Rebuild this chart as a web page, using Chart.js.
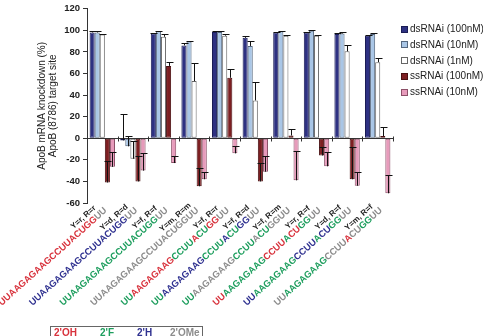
<!DOCTYPE html>
<html>
<head>
<meta charset="utf-8">
<script src="https://cdn.jsdelivr.net/npm/chart.js@4.4.1/dist/chart.umd.min.js"></script>
<style>
  html, body { margin: 0; padding: 0; background: #fff; }
  #wrap { position: relative; width: 483px; height: 336px; overflow: hidden; }
  #legend { position: absolute; left: 401px; top: 21px; font: 10px 'Liberation Sans', Arial, sans-serif; color: #222; }
  #legend .row { height: 15.75px; line-height: 15.75px; white-space: nowrap; }
  #legend .box { display: inline-block; width: 5px; height: 5px; border: 1px solid #555; margin-right: 2px; vertical-align: -0.5px; }
  #key { position: absolute; left: 50px; top: 326px; width: 153px; height: 14px; border: 1px solid #666;
         font: bold 10px 'Liberation Sans', Arial, sans-serif; box-sizing: border-box; }
  #key span { position: absolute; top: 0px; }
</style>
</head>
<body>
<div id="wrap">
  <canvas id="grafico" width="483" height="336"></canvas>
  <div id="legend"></div>
  <div id="key">
    <span style="left:3px;color:#d8323c">2'OH</span>
    <span style="left:49px;color:#1e9e5e">2'F</span>
    <span style="left:86px;color:#2f3190">2'H</span>
    <span style="left:119px;color:#8c8c8c">2'OMe</span>
  </div>
</div>
<script>
// secuencia y modificaciones por categoria
const sequence = 'UUAAGAGAAGCCUUACUGGUU';
const yMods = ['r', 'd', 'f', 'm', 'f', 'f', 'f', 'r', 'd', 'm'];
const rMods = ['r', 'd', 'f', 'm', 'r', 'd', 'm', 'f', 'f', 'f'];
const categories = yMods.map((y, i) => `Y=${y}, R=${rMods[i]}`);

const seriesNames = ['dsRNAi (100nM)', 'dsRNAi (10nM)', 'dsRNAi (1nM)', 'ssRNAi (100nM)', 'ssRNAi (10nM)'];

const ds100 = [98, -2, 97, 86, 98.5, 93, 98, 98, 96.5, 95];
const ds10 = [98, -7.5, 99, 89.5, 98.5, 85.5, 99, 99.5, 97, 96.5];
const ds1 = [96, -19, 94, 53, 95, 35, 95, 95, 80.5, 70.5];
const ss100 = [-41, -40, 67, -44.5, 56, -40, 2.5, -16, -38, 2];
const ss10 = [-26.5, -30, -23, -38, -14, -31, -39, -26, -44, -51];

const ds100Err = [1, 24, 0.5, 2, 0.5, 1.5, 0.5, 0.5, 1, 1];
const ds10Err = [1, 10, 0.5, 1, 0.5, 5, 0.5, 1, 1, 1];
const ds1Err = [0.5, 16, 3, 17, 2, 17, 1, 0.5, 6, 4];
const ss100Err = [20, 24, 4, 17, 8, 17, 6, 8, 30, 8];
const ss10Err = [14, 16, 7, 7, 7, 15, 27, 13, 13, 17];

const yTicks = { min: -60, max: 120, step: 20 };

const colores = ['#2e3182', '#a9c6e6', '#ffffff', '#7d1f22', '#e79bbb'];
const bordes = ['#1a1c55', '#55677e', '#666666', '#4a1012', '#8c5068'];
const modColor = { r: '#d8323c', f: '#1e9e5e', d: '#2f3190', m: '#8c8c8c' };

function charMod(cat, k) {
    if (cat === 9 && k === 14) return 'r';
    if (k >= 19) return 'm';
    const ch = sequence[k];
    return (ch === 'C' || ch === 'U') ? yMods[cat] : rMods[cat];
}

// barras de error (solo hacia arriba)
const errorBars = {
    id: 'errorBars',
    afterDatasetsDraw(chart) {
        const { ctx } = chart;
        const yScale = chart.scales.y;
        ctx.save();
        ctx.strokeStyle = '#111';
        ctx.lineWidth = 1;
        chart.data.datasets.forEach((ds, i) => {
            chart.getDatasetMeta(i).data.forEach((bar, j) => {
                const v = ds.data[j], e = ds.errors[j];
                if (!e) return;
                const x = Math.round(bar.x) + 0.5;
                const y0 = yScale.getPixelForValue(v);
                const y1 = Math.round(yScale.getPixelForValue(v + e)) + 0.5;
                ctx.beginPath();
                ctx.moveTo(x, y0);
                ctx.lineTo(x, y1);
                ctx.moveTo(x - 3, y1);
                ctx.lineTo(x + 4, y1);
                ctx.stroke();
            });
        });
        ctx.restore();
    }
};

// marcas en la linea cero
const zeroTicks = {
    id: 'zeroTicks',
    afterDraw(chart) {
        const { ctx } = chart;
        const x = chart.scales.x, y = chart.scales.y;
        const y0 = Math.round(y.getPixelForValue(0)) + 0.5;
        const w = (x.right - x.left) / categories.length;
        ctx.save();
        ctx.strokeStyle = '#333';
        ctx.lineWidth = 1;
        ctx.beginPath();
        for (let i = 1; i <= categories.length; i++) {
            const xx = Math.round(x.left + i * w) + 0.5;
            ctx.moveTo(xx, y0 - 2);
            ctx.lineTo(xx, y0 + 3);
        }
        ctx.stroke();
        ctx.restore();
    }
};

// etiquetas de secuencia giradas
const seqLabels = {
    id: 'seqLabels',
    afterDraw(chart) {
        const { ctx } = chart;
        const xScale = chart.scales.x;
        const ang = 42 * Math.PI / 180;
        ctx.save();
        categories.forEach((cat, i) => {
            const cx = xScale.getPixelForValue(i);
            ctx.save();
            ctx.translate(cx + 5, 211);
            ctx.rotate(-ang);
            ctx.font = "bold 9.2px 'Liberation Sans', Arial, sans-serif";
            ctx.textBaseline = 'alphabetic';
            ctx.textAlign = 'left';
            const total = ctx.measureText(sequence).width;
            let u = -total;
            for (let k = 0; k < sequence.length; k++) {
                ctx.fillStyle = modColor[charMod(i, k)];
                ctx.fillText(sequence[k], u, 0);
                u += ctx.measureText(sequence[k]).width;
            }
            ctx.font = "bold 8px 'Liberation Sans', Arial, sans-serif";
            ctx.fillStyle = '#222';
            ctx.textAlign = 'center';
            ctx.fillText(cat, -22, -9);
            ctx.restore();
        });
        ctx.restore();
    }
};

const series = [ds100, ds10, ds1, ss100, ss10];
const errores = [ds100Err, ds10Err, ds1Err, ss100Err, ss10Err];

const miGrafico = new Chart(document.getElementById('grafico').getContext('2d'), {
    type: 'bar',
    data: {
        labels: categories,
        datasets: series.map((valores, i) => ({
            label: seriesNames[i],
            data: valores,
            errors: errores[i],
            backgroundColor: colores[i],
            borderColor: bordes[i],
            borderWidth: 1,
            borderSkipped: false,
            categoryPercentage: 0.83,
            barPercentage: 1
        }))
    },
    options: {
        responsive: false,
        animation: false,
        layout: { padding: { top: 5, right: 90, bottom: 133, left: 0 } },
        plugins: {
            legend: { display: false },
            tooltip: { enabled: false }
        },
        scales: {
            x: { display: false },
            y: {
                min: yTicks.min,
                max: yTicks.max,
                ticks: {
                    stepSize: yTicks.step,
                    color: '#222',
                    padding: 3,
                    font: { family: "'Liberation Sans', Arial, sans-serif", size: 9.5, weight: 'bold' }
                },
                grid: {
                    color: c => (c.tick && c.tick.value === 0) ? '#333' : 'rgba(0,0,0,0)',
                    tickColor: '#333',
                    tickLength: 4
                },
                border: { color: '#333' },
                title: {
                    display: true,
                    text: ['ApoB mRNA knockdown (%)', 'ApoB (8786) target site'],
                    color: '#222',
                    padding: { top: 37, bottom: 0 },
                    font: { family: "'Liberation Sans', Arial, sans-serif", size: 10, lineHeight: 1.1 }
                },
                afterFit: s => { s.width = 87; }
            }
        }
    },
    plugins: [errorBars, zeroTicks, seqLabels]
});

// leyenda
document.getElementById('legend').innerHTML = seriesNames.map((n, i) =>
    `<div class="row"><span class="box" style="background:${colores[i]};border-color:${bordes[i]}"></span>${n}</div>`
).join('');
</script>
</body>
</html>
